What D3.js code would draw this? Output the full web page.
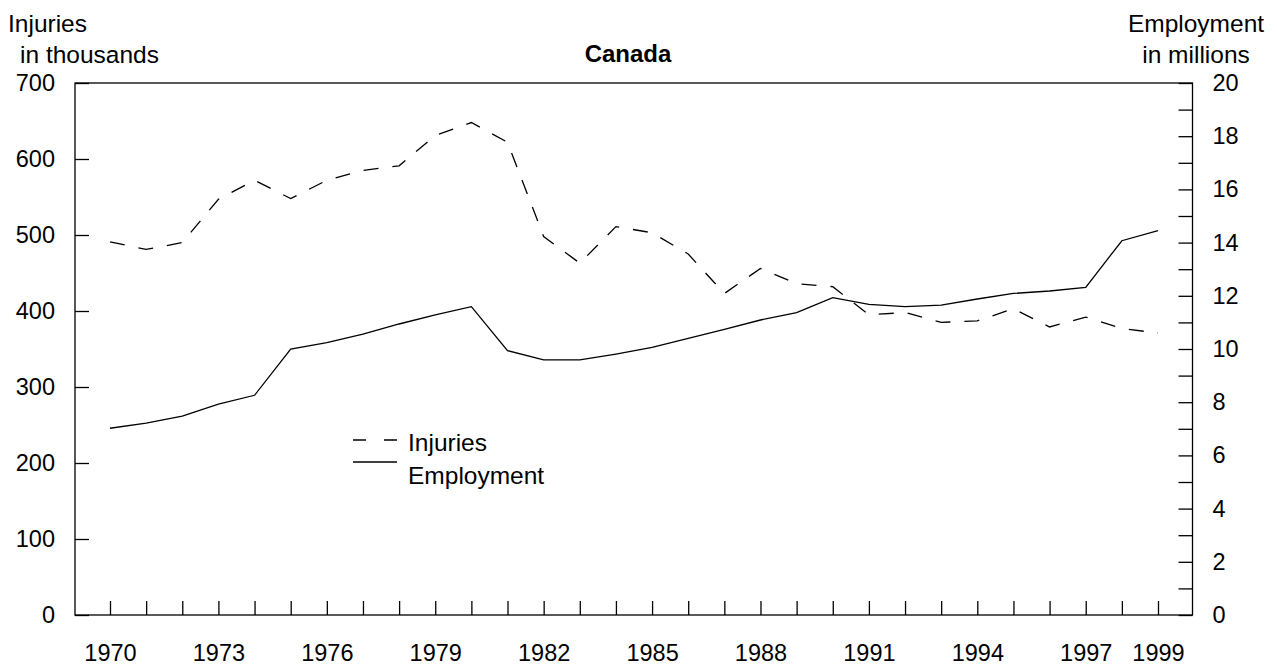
<!DOCTYPE html>
<html>
<head>
<meta charset="utf-8">
<script src="https://cdn.jsdelivr.net/npm/d3@7"></script>
<style>
  body { margin: 0; background: #fff; }
  svg text { font-family: "Liberation Sans", Arial, Helvetica, sans-serif; fill: #000; }
</style>
</head>
<body>
<svg id="chart" width="1277" height="669"></svg>
<script>
// values
var years = d3.range(1970, 2000);
var injuries = [491, 481, 490, 547, 572, 548, 572, 585, 591, 631,
                648, 622, 498, 463, 511, 503, 475, 423, 456, 436,
                432, 395, 398, 385, 387, 403, 379, 392, 377, 371];
var employment = [7.02, 7.21, 7.48, 7.93, 8.26, 10.0, 10.24, 10.56, 10.94, 11.28,
                  11.59, 9.94, 9.59, 9.59, 9.81, 10.06, 10.4, 10.74, 11.09, 11.37,
                  11.93, 11.68, 11.59, 11.65, 11.88, 12.09, 12.18, 12.32, 14.07, 14.45];
var yearLabels = [1970, 1973, 1976, 1979, 1982, 1985, 1988, 1991, 1994, 1997, 1999];
var leftTicks = [0, 100, 200, 300, 400, 500, 600, 700];
var rightTicks = d3.range(0, 21);

var svg = d3.select('#chart');

var frame = {left: 75, right: 1192.5, top: 83, bottom: 615};
var labelSize = '24.5px';

var x = d3.scaleLinear().domain([1970, 1999]).range([110, 1158]);
var yL = d3.scaleLinear().domain([0, 700]).range([frame.bottom, frame.top]);
var yR = d3.scaleLinear().domain([0, 20]).range([frame.bottom, frame.top]);

// box
svg.append('rect')
    .attr('x', frame.left)
    .attr('y', frame.top)
    .attr('width', frame.right - frame.left)
    .attr('height', frame.bottom - frame.top)
    .attr('fill', 'none')
    .attr('stroke', '#000')
    .attr('stroke-width', 1.3);

function styleAxis(g) {
    g.select('.domain').remove();
    g.selectAll('.tick line').attr('stroke', '#000').attr('stroke-width', 1.3);
    g.selectAll('.tick text').style('font-size', '23.5px');
}

svg.append('g')
    .attr('transform', 'translate(' + frame.left + ',0)')
    .call(d3.axisLeft(yL).tickValues(leftTicks).tickSize(-14).tickPadding(20))
    .call(styleAxis);

svg.append('g')
    .attr('transform', 'translate(' + frame.right + ',0)')
    .call(d3.axisRight(yR).tickValues(rightTicks).tickSize(-14).tickPadding(20)
        .tickFormat(function (d) { return d % 2 === 0 ? d : ''; }))
    .call(styleAxis);

svg.append('g')
    .attr('transform', 'translate(0,' + frame.bottom + ')')
    .call(d3.axisBottom(x).tickValues(years).tickSize(-14).tickPadding(29)
        .tickFormat(function (d) { return yearLabels.indexOf(d) > -1 ? d : ''; }))
    .call(styleAxis);

// lines
var injLine = d3.line()
    .x(function (d, i) { return x(years[i]); })
    .y(function (d) { return yL(d); });

var empLine = d3.line()
    .x(function (d, i) { return x(years[i]); })
    .y(function (d) { return yR(d); });

svg.append('path')
    .datum(employment)
    .attr('d', empLine)
    .attr('fill', 'none')
    .attr('stroke', '#000')
    .attr('stroke-width', 1.3);

svg.append('path')
    .datum(injuries)
    .attr('d', injLine)
    .attr('fill', 'none')
    .attr('stroke', '#000')
    .attr('stroke-width', 1.3)
    .attr('stroke-dasharray', '15,14');

// titles
svg.append('text')
    .attr('x', 628).attr('y', 62)
    .attr('text-anchor', 'middle')
    .style('font-size', '24px')
    .style('font-weight', 'bold')
    .text('Canada');

svg.append('text').attr('x', 8).attr('y', 31.5).style('font-size', labelSize).text('Injuries');
svg.append('text').attr('x', 20).attr('y', 63).style('font-size', labelSize).text('in thousands');
svg.append('text').attr('x', 1196).attr('y', 32).attr('text-anchor', 'middle').style('font-size', labelSize).text('Employment');
svg.append('text').attr('x', 1196).attr('y', 62.5).attr('text-anchor', 'middle').style('font-size', labelSize).text('in millions');

// legend
var legend = svg.append('g');
legend.append('line')
    .attr('x1', 353).attr('x2', 397).attr('y1', 440).attr('y2', 440)
    .attr('stroke', '#000').attr('stroke-width', 1.3)
    .attr('stroke-dasharray', '13,18');
legend.append('text').attr('x', 408).attr('y', 451).style('font-size', labelSize).text('Injuries');
legend.append('line')
    .attr('x1', 353).attr('x2', 397).attr('y1', 462).attr('y2', 462)
    .attr('stroke', '#000').attr('stroke-width', 1.3);
legend.append('text').attr('x', 408).attr('y', 484).style('font-size', labelSize).text('Employment');
</script>
</body>
</html>
